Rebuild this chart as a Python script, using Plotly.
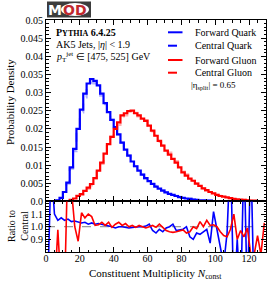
import plotly.graph_objects as go
from plotly.subplots import make_subplots

# ---------------- data ----------------
bin_edges = list(range(0, 132, 2))  # 65 bins of width 2, 0..130

fwd_quark = [
    0.00002, 0.00005, 0.0001, 0.0003, 0.0010, 0.0026, 0.0052, 0.0094, 0.0145, 0.0200,
    0.0253, 0.0297, 0.0325, 0.0337, 0.0332, 0.0320, 0.0297, 0.0271, 0.0246, 0.0225,
    0.0205, 0.0185, 0.0162, 0.0143, 0.0126, 0.0110, 0.0097, 0.0085, 0.0074, 0.0064,
    0.0056, 0.0048, 0.0041, 0.0035, 0.0030, 0.0025, 0.0021, 0.0018, 0.0015, 0.0012,
    0.0010, 0.0008, 0.0007, 0.0005, 0.0004, 0.0003, 0.0003, 0.0002, 0.0002, 0.0001,
    0.0001, 0.0001, 0.00005, 0.00005, 0.00003, 0.00003, 0.00002, 0.00002, 0.00001, 0.00001,
    0.00001, 0.000005, 0.0, 0.0, 0.0,
]

fwd_gluon = [
    0.0, 0.0, 0.0, 0.00001, 0.00002, 0.00003, 0.0001, 0.0004, 0.0008, 0.0015,
    0.0020, 0.0029, 0.0038, 0.0048, 0.0064, 0.0085, 0.0107, 0.0132, 0.0158, 0.0178,
    0.0200, 0.0218, 0.0237, 0.0243, 0.0249, 0.0250, 0.0243, 0.0237, 0.0228, 0.0222,
    0.0209, 0.0195, 0.0181, 0.0167, 0.0154, 0.0140, 0.0129, 0.0117, 0.0107, 0.0094,
    0.0080, 0.0071, 0.0063, 0.0057, 0.0049, 0.0043, 0.0036, 0.0031, 0.0026, 0.0022,
    0.0018, 0.0015, 0.0013, 0.0011, 0.0009, 0.0007, 0.0006, 0.0005, 0.0004, 0.0003,
    0.0002, 0.0002, 0.0001, 0.0001, 0.0001,
]

# forward / central ratio per bin (None = undefined)
ratio_quark = [
    0.5, 1.5, 1.10, 1.05, 1.07, 1.05, 1.06, 1.04, 1.045, 1.04,
    1.03, 1.035, 1.02, 1.03, 1.02, 1.025, 1.02, 1.01, 1.005, 1.0,
    0.99, 1.0, 1.0, 0.995, 0.99, 0.995, 1.0, 1.0, 1.0, 1.005,
    1.02, 0.97, 0.95, 0.98, 0.96, 0.99, 1.0, 1.02, 0.97, 0.975,
    0.98, 1.0, 0.92, 0.90, 0.95, 0.94, 0.96, 0.98, 0.87, 1.12,
    0.98, 0.85, 0.70, 0.95, 1.6, 0.4, 0.9, 0.4, 1.6, 0.4,
    1.6, 0.4, None, None, None,
]

ratio_gluon = [
    None, None, 0.5, 0.975, 0.5, 0.5, 1.6, 1.3, 1.0, 0.885,
    1.11, 1.07, 1.10, 1.08, 1.01, 1.015, 1.035, 1.01, 1.035, 0.995,
    1.02, 1.035, 1.01, 1.025, 1.0, 1.01, 0.995, 1.01, 1.0, 0.99,
    1.0, 1.01, 0.995, 1.02, 0.995, 0.97, 0.96, 0.955, 0.96, 0.97,
    0.975, 0.95, 0.96, 1.0, 0.985, 1.04, 1.0, 1.05, 1.01, 1.015,
    1.0, 0.96, 0.93, 0.92, 0.98, 1.1, 0.9, 0.97, 0.92, 0.99,
    0.78, 0.78, 0.93, 0.78, 1.03,
]

y_tick_vals = [0, 0.005, 0.01, 0.015, 0.02, 0.025, 0.03, 0.035, 0.04, 0.045, 0.05]
y_tick_text = ["0.0", "0.005", "0.01", "0.015", "0.02", "0.025", "0.03", "0.035", "0.04", "0.045", "0.05"]
r_tick_vals = [0.9, 1.0, 1.1]
r_tick_text = ["0.9", "1.0", "1.1"]

# -------------------------------------
centers = [(bin_edges[i] + bin_edges[i + 1]) / 2 for i in range(len(fwd_quark))]


def central_from(fwd, ratio):
    return [f / r if (r is not None and r > 0) else f for f, r in zip(fwd, ratio)]


cen_quark = central_from(fwd_quark, ratio_quark)
cen_gluon = central_from(fwd_gluon, ratio_gluon)


def step(vals):
    return bin_edges, list(vals) + [vals[-1]]


BLUE = "#0000ff"
RED = "#ff0000"
FONT = "Liberation Serif"

fig = make_subplots(rows=2, cols=1, shared_xaxes=True, vertical_spacing=0)

for vals, col in [(cen_quark, "rgba(80,80,255,0.45)"), (cen_gluon, "rgba(255,80,80,0.45)")]:
    x, y = step(vals)
    fig.add_trace(go.Scatter(x=x, y=y, mode="lines", line=dict(color=col, width=2.2, dash="dash", shape="hv"),
                             showlegend=False, hoverinfo="skip"), row=1, col=1)
for vals, col in [(fwd_quark, BLUE), (fwd_gluon, RED)]:
    x, y = step(vals)
    fig.add_trace(go.Scatter(x=x, y=y, mode="lines", line=dict(color=col, width=2.2, shape="hv"),
                             showlegend=False, hoverinfo="skip"), row=1, col=1)

for r, col in [(ratio_quark, BLUE), (ratio_gluon, RED)]:
    fig.add_trace(go.Scatter(x=centers, y=r, mode="lines", line=dict(color=col, width=1.6),
                             connectgaps=False, showlegend=False, hoverinfo="skip"), row=2, col=1)

axis_common = dict(showline=True, linecolor="black", linewidth=1, mirror="allticks", ticks="inside",
                   tickcolor="black", showgrid=False, zeroline=False,
                   tickfont=dict(family=FONT, size=10, color="black"))

fig.update_xaxes(range=[0, 130], dtick=20, tick0=0, ticklen=5,
                 minor=dict(dtick=5, tick0=0, ticklen=2.5, ticks="inside", tickcolor="black"),
                 **axis_common)
fig.update_xaxes(showticklabels=False, row=1, col=1)
fig.update_xaxes(showticklabels=True, ticklabelstandoff=-3, row=2, col=1)

fig.update_yaxes(range=[0, 0.05], tickvals=y_tick_vals, ticktext=y_tick_text, ticklen=5,
                 minor=dict(dtick=0.001, tick0=0, ticklen=2.5, ticks="inside", tickcolor="black"),
                 domain=[0.218, 1], row=1, col=1, **axis_common)
fig.update_yaxes(range=[0.8, 1.2], tickvals=r_tick_vals, ticktext=r_tick_text, ticklen=5,
                 minor=dict(dtick=0.02, tick0=0.8, ticklen=2.5, ticks="inside", tickcolor="black"),
                 domain=[0, 0.218], row=2, col=1, **axis_common)

W, H = 274, 284
L, R, T, B = 46, 8, 20, 32
pw, ph = W - L - R, H - T - B


def px(x):
    return (x - L) / pw


def py(y):
    return (H - B - y) / ph


shapes = [
    dict(type="line", xref="x2", yref="y2", x0=0, x1=130, y0=1, y1=1,
         line=dict(color="gray", width=1, dash="dash"), layer="below"),
]

legend_rows = [
    ("Forward Quark", BLUE, "solid", 32.3),
    ("Central Quark", BLUE, "dash", 45.7),
    ("Forward Gluon", RED, "solid", 60),
    ("Central Gluon", RED, "dash", 72.7),
]
annotations = []
for label, col, dash, yy in legend_rows:
    shapes.append(dict(type="line", xref="paper", yref="paper", x0=px(168), x1=px(182.5), y0=py(yy), y1=py(yy),
                       line=dict(color=col, width=2, dash="dash" if dash == "dash" else "solid")))
    annotations.append(dict(xref="paper", yref="paper", x=px(192.5), y=py(yy), xanchor="left", yanchor="middle",
                            text=label, showarrow=False, font=dict(family=FONT, size=10, color="black")))
annotations.append(dict(xref="paper", yref="paper", x=px(189), y=py(86), xanchor="left", yanchor="middle",
                        text="|η<sub>split</sub>| = 0.65", showarrow=False,
                        font=dict(family=FONT, size=9, color="black")))

# Info text
annotations += [
    dict(xref="paper", yref="paper", x=px(54), y=py(33), xanchor="left", yanchor="middle", showarrow=False,
         text="<b>P<span style='font-size:8px'>YTHIA</span> 6.4.25</b>",
         font=dict(family=FONT, size=10, color="black")),
    dict(xref="paper", yref="paper", x=px(54), y=py(44), xanchor="left", yanchor="middle", showarrow=False,
         text="AK5 Jets, |<i>η</i>| &lt; 1.9", font=dict(family=FONT, size=10, color="black")),
    dict(xref="paper", yref="paper", x=px(54), y=py(56.5), xanchor="left", yanchor="middle", showarrow=False,
         text="<i>p</i><sub>T</sub><sup>jet</sup> ∈ [475, 525] GeV", font=dict(family=FONT, size=10, color="black")),
    # axis titles
    dict(xref="paper", yref="paper", x=px(10), y=py(102), xanchor="center", yanchor="middle", showarrow=False,
         textangle=-90, text="Probability Density", font=dict(family=FONT, size=11, color="black")),
    dict(xref="paper", yref="paper", x=px(18), y=py(226), xanchor="center", yanchor="middle", showarrow=False,
         textangle=-90, text="Ratio to<br>Central", font=dict(family=FONT, size=10, color="black")),
    dict(xref="paper", yref="paper", x=px(155), y=py(273.5), xanchor="center", yanchor="middle", showarrow=False,
         text="Constituent Multiplicity <i>N</i><sub>const</sub>", font=dict(family=FONT, size=11, color="black")),
]

# MOD logo
shapes += [
    dict(type="rect", xref="paper", yref="paper", x0=px(47), x1=px(91), y0=py(17.5), y1=py(1.5),
         fillcolor="#3c3c3c", line=dict(width=0)),
    dict(type="circle", xref="paper", yref="paper", x0=px(61), x1=px(89), y0=py(16), y1=py(3),
         fillcolor="white", line=dict(width=0)),
]
annotations += [
    dict(xref="paper", yref="paper", x=px(54.5), y=py(9.8), xanchor="center", yanchor="middle", showarrow=False,
         text="<b>M</b>", font=dict(family="DejaVu Sans", size=14, color="white")),
    dict(xref="paper", yref="paper", x=px(75), y=py(9.8), xanchor="center", yanchor="middle", showarrow=False,
         text="<b>OD</b>", font=dict(family="DejaVu Sans", size=14, color="#c0282d")),
]

fig.update_layout(width=W, height=H, margin=dict(l=L, r=R, t=T, b=B, pad=0),
                  paper_bgcolor="white", plot_bgcolor="white", showlegend=False,
                  shapes=shapes, annotations=annotations,
                  font=dict(family=FONT, size=10, color="black"))

fig.write_html("out.html", config={"displayModeBar": False},
               post_script="document.body.style.margin='0px';")
